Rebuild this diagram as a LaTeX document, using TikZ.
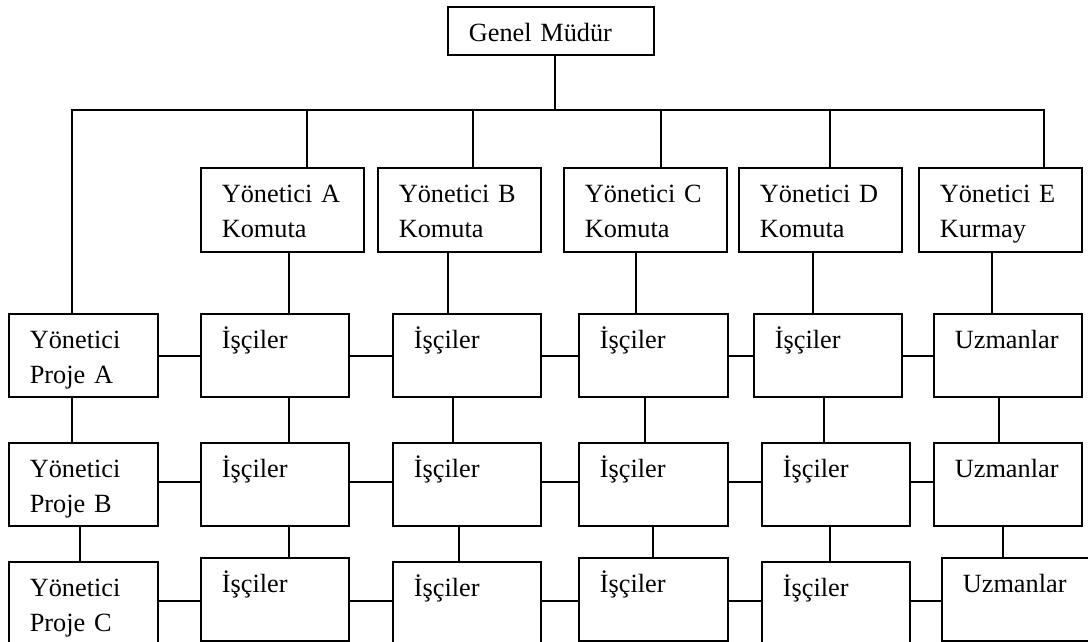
\documentclass[tikz,border=0pt]{standalone}
\usepackage{fontspec}
\setmainfont{Liberation Serif}
\usepackage{tikz}

\begin{document}
\begin{tikzpicture}[
    x=0.5pt, y=-0.5pt,
    kutu/.style={rectangle, draw, line width=0.85pt, anchor=north west, align=left, inner xsep=10.5pt, inner ysep=0pt, text width=53pt, text height=17.5pt, text depth=24pt, font=\fontsize{13.15pt}{17.5pt}\selectfont},
    ustkutu/.style={kutu, text width=60.5pt, text depth=24.5pt},
    hat/.style={line width=0.85pt}
]
\useasboundingbox (0,0) rectangle (1088,642);
\clip (0,0) rectangle (1088,642);

% Genel Mudur
\node[kutu, text width=82pt, text depth=6.5pt] (gm) at (447,6) {Genel Müdür};

% Yoneticiler (komuta / kurmay)
\node[ustkutu] (yA) at (200,167) {Yönetici A\\Komuta};
\node[ustkutu] (yB) at (377,167) {Yönetici B\\Komuta};
\node[ustkutu] (yC) at (563,167) {Yönetici C\\Komuta};
\node[ustkutu] (yD) at (738,167) {Yönetici D\\Komuta};
\node[ustkutu] (yE) at (918,167) {Yönetici E\\Kurmay};

% Proje yoneticileri
\node[kutu, text width=53.5pt] (pA) at (8,313) {Yönetici\\Proje A};
\node[kutu, text width=53.5pt] (pB) at (8,442) {Yönetici\\Proje B};
\node[kutu, text width=53.5pt] (pC) at (8,561) {Yönetici\\Proje C};

% Isciler ve uzmanlar
\node[kutu] (a1) at (200,313) {İşçiler};
\node[kutu] (a2) at (392,313) {İşçiler};
\node[kutu, text width=53.5pt] (a3) at (578,313) {İşçiler};
\node[kutu] (a4) at (753,313) {İşçiler};
\node[kutu] (aU) at (933,313) {Uzmanlar};

\node[kutu] (b1) at (200,442) {İşçiler};
\node[kutu] (b2) at (392,442) {İşçiler};
\node[kutu, text width=53.5pt] (b3) at (578,442) {İşçiler};
\node[kutu] (b4) at (761,442) {İşçiler};
\node[kutu] (bU) at (933,442) {Uzmanlar};

\node[kutu] (c1) at (200,557) {İşçiler};
\node[kutu] (c2) at (392,561) {İşçiler};
\node[kutu, text width=53.5pt] (c3) at (578,557) {İşçiler};
\node[kutu] (c4) at (761,561) {İşçiler};
\node[kutu, text width=54pt] (cU) at (941,557) {Uzmanlar};

% Agac baglantilari
\coordinate (hatL) at (72,110);
\coordinate (hatR) at (1044,110);
\draw[hat] (gm.south -| 555,0) -- (hatL -| 555,0);
\draw[hat] (pA.north -| hatL) -- (hatL) -- (hatR) -- (yE.north -| hatR);
\foreach \k/\x in {yA/307, yB/473, yC/661, yD/830}
  \draw[hat] (\k.north -| \x,0) -- (hatL -| \x,0);

% Dikey baglantilar
\foreach \u/\l/\x in {yA/a1/289, yB/a2/448, yC/a3/636, yD/a4/813, yE/aU/992,
    pA/pB/72, a1/b1/289, a2/b2/453, a3/b3/645, a4/b4/824, aU/bU/999,
    pB/pC/80, b1/c1/289, b2/c2/459, b3/c3/653, b4/c4/830, bU/cU/1003}
  \draw[hat] (\u.south -| \x,0) -- (\l.north -| \x,0);

% Yatay baglantilar
\foreach \s/\t/\y in {pA/a1/356, a1/a2/356, a2/a3/356, a3/a4/356, a4/aU/356,
    pB/b1/482, b1/b2/482, b2/b3/482, b3/b4/482, b4/bU/482,
    pC/c1/601, c1/c2/601, c2/c3/601, c3/c4/601, c4/cU/601}
  \draw[hat] (\s.east |- 0,\y) -- (\t.west |- 0,\y);
\end{tikzpicture}
\end{document}
